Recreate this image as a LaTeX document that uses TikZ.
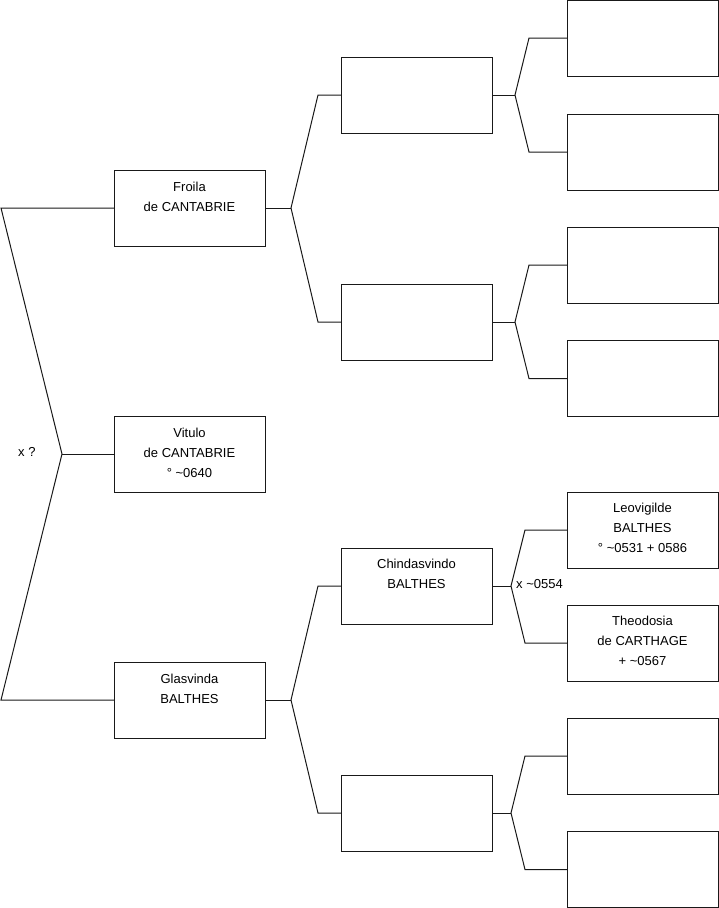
\documentclass[tikz,border=0pt]{standalone}
\usepackage{fontspec}
\setmainfont{Liberation Sans}
\begin{document}
\begin{tikzpicture}[x=1pt,y=-1pt,
  every node/.style={font=\fontsize{13}{20}\selectfont},
  box/.style={draw=black!90, line width=1pt, minimum width=151pt, minimum height=76pt, inner sep=0pt, outer sep=0pt},
  lbl/.style={align=center, anchor=base, inner sep=0pt},
  conn/.style={draw=black!90, line width=1pt, line join=miter}]
\useasboundingbox (0,0) rectangle (719,908);
% generation 1
\node[box] (f) at (189.5,208) {};
\node[box] (v) at (189.5,454) {};
\node[box] (g) at (189.5,700) {};
% generation 2
\node[box] (a) at (416.5,95) {};
\node[box] (b) at (416.5,322) {};
\node[box] (c) at (416.5,586) {};
\node[box] (d) at (416.5,813) {};
% generation 3
\node[box] (a1) at (642.5,38) {};
\node[box] (a2) at (642.5,152) {};
\node[box] (b1) at (642.5,265) {};
\node[box] (b2) at (642.5,378.5) {};
\node[box] (c1) at (642.5,530) {};
\node[box] (c2) at (642.5,643) {};
\node[box] (d1) at (642.5,756) {};
\node[box] (d2) at (642.5,869.5) {};
% labels (anchored at the baseline of their last line)
\node[lbl] (ft) at (189.5,211) {Froila\\de CANTABRIE};
\node[lbl] (vt) at (189.5,477) {Vitulo\\de CANTABRIE\\° \textasciitilde0640};
\node[lbl] (gt) at (189.5,703) {Glasvinda\\BALTHES};
\node[lbl] (ct) at (416.5,588) {Chindasvindo\\BALTHES};
\node[lbl] (c1t) at (642.5,552) {Leovigilde\\BALTHES\\° \textasciitilde0531 + 0586};
\node[lbl] (c2t) at (642.5,665) {Theodosia\\de CARTHAGE\\+ \textasciitilde0567};
\node[anchor=base west, inner sep=0pt] (xq) at (18,456) {x ?};
\node[anchor=base west, inner sep=0pt] (xc) at (516,588.5) {x \textasciitilde0554};
% connector points
\coordinate (r0) at (62,454);
\coordinate (r1) at (1,208);
\coordinate (r2) at (1,700);
\coordinate (jf) at (291,208);
\coordinate (jfa) at (318,95);
\coordinate (jfb) at (318,322);
\coordinate (jg) at (291,700);
\coordinate (jgc) at (318,586);
\coordinate (jgd) at (318,813);
\coordinate (ja) at (515,95);
\coordinate (ja1) at (529,38);
\coordinate (ja2) at (529,152);
\coordinate (jb) at (515,322);
\coordinate (jb1) at (529,265);
\coordinate (jb2) at (529,378.5);
\coordinate (jc) at (511,586);
\coordinate (jc1) at (525,530);
\coordinate (jc2) at (525,643);
\coordinate (jd) at (511,813);
\coordinate (jd1) at (525,756);
\coordinate (jd2) at (525,869.5);
% connectors
\draw[conn] (f.west) -- (r1) -- (r0) -- (r2) -- (g.west);
\draw[conn] (r0) -- (v.west);
\draw[conn] (f.east) -- (jf);
\draw[conn] (a.west) -- (jfa) -- (jf) -- (jfb) -- (b.west);
\draw[conn] (g.east) -- (jg);
\draw[conn] (c.west) -- (jgc) -- (jg) -- (jgd) -- (d.west);
\draw[conn] (a.east) -- (ja);
\draw[conn] (a1.west) -- (ja1) -- (ja) -- (ja2) -- (a2.west);
\draw[conn] (b.east) -- (jb);
\draw[conn] (b1.west) -- (jb1) -- (jb) -- (jb2) -- (b2.west);
\draw[conn] (c.east) -- (jc);
\draw[conn] (c1.west) -- (jc1) -- (jc) -- (jc2) -- (c2.west);
\draw[conn] (d.east) -- (jd);
\draw[conn] (d1.west) -- (jd1) -- (jd) -- (jd2) -- (d2.west);
\end{tikzpicture}
\end{document}
